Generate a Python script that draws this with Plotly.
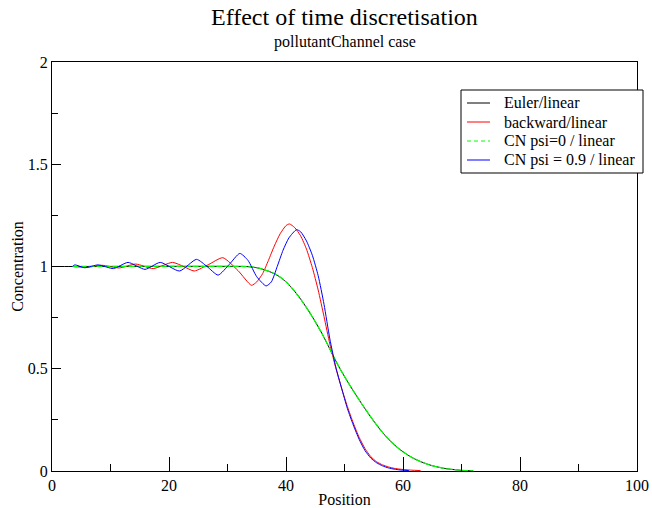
import plotly.graph_objects as go

# ---------------- data ----------------
euler_x = [0, 3.5, 33, 34, 35, 36, 37, 38, 39, 40, 41, 42, 43, 44, 45, 46, 47, 48, 49, 50,
           51, 52, 53, 54, 55, 56, 57, 58, 59, 60, 61, 62, 63, 64, 65, 66, 67, 68, 69, 70, 71, 72]
euler_y = [1.0, 1.0, 1.0, 0.998, 0.994, 0.987, 0.977, 0.965, 0.948, 0.925, 0.895, 0.86, 0.82,
           0.777, 0.73, 0.68, 0.625, 0.567, 0.512, 0.462, 0.415, 0.37, 0.326, 0.284, 0.244,
           0.206, 0.172, 0.142, 0.116, 0.094, 0.075, 0.059, 0.046, 0.035, 0.026, 0.019, 0.013,
           0.009, 0.006, 0.003, 0.002, 0.001]

cn0_x = euler_x[1:]
cn0_y = euler_y[1:]

backward_x = [3.5, 6, 8.5, 11.5, 14.3, 17.3, 20.6, 22.5, 24.3, 26.8, 29.2, 31.8, 34.1, 35, 36,
              37, 38, 39, 40, 40.6, 41.5, 42.5, 43.5, 44.5, 45.5, 46.5, 47.5, 48.5, 49.5, 50.5,
              51.5, 52.5, 53.5, 54.5, 55.5, 56.5, 57.5, 58.5, 59.5, 60.5, 61.5, 63]
backward_y = [1.0, 0.996, 1.006, 0.993, 1.012, 0.99, 1.02, 1.0, 0.978, 1.01, 1.043, 0.98,
              0.908, 0.925, 0.965, 1.03, 1.1, 1.16, 1.2, 1.208, 1.19, 1.15, 1.085, 0.995, 0.885,
              0.755, 0.62, 0.505, 0.405, 0.315, 0.235, 0.165, 0.11, 0.07, 0.045, 0.03, 0.02,
              0.013, 0.009, 0.006, 0.004, 0.002]

cn09_x = [3.5, 3.9, 5.6, 7.9, 10.5, 13, 15.9, 18.5, 21.8, 24.7, 26.5, 28.4, 30.3, 32.1, 33.5,
          35, 36.6, 37.5, 38.5, 39.5, 40.5, 41.8, 42.5, 43.5, 44.5, 45.5, 46.5, 47.5, 48.5,
          49.5, 50.5, 51.5, 52.5, 53.5, 54.5, 55.5, 56.5, 57.5, 58.5, 59.5, 61]
cn09_y = [1.0, 1.008, 0.994, 1.008, 0.99, 1.02, 0.986, 1.02, 0.978, 1.035, 1.0, 0.958, 1.01,
          1.064, 1.03, 0.95, 0.905, 0.925, 1.0, 1.08, 1.14, 1.18, 1.17, 1.125, 1.055, 0.955,
          0.815, 0.645, 0.51, 0.405, 0.305, 0.225, 0.155, 0.1, 0.063, 0.04, 0.025, 0.015,
          0.009, 0.005, 0.002]

series_names = ["Euler/linear", "backward/linear", "CN psi=0 / linear", "CN psi = 0.9 / linear"]
series_colors = ["black", "#ff0000", "#00ff00", "#0000ff"]
series_dashed = [False, False, True, False]

x_ticks = [0, 20, 40, 60, 80, 100]
y_ticks = [0, 0.5, 1, 1.5, 2]

FONT = "Liberation Serif, Times New Roman, serif"

# ---------------- geometry (pixels) ----------------
W, H = 652, 508
L, R, T, B = 52, 15, 62, 37
PW, PH = W - L - R, H - T - B


def px(xp):
    return (xp - L) / PW


def py(yp):
    return (H - B - yp) / PH


fig = go.Figure()
data = [(euler_x, euler_y), (backward_x, backward_y), (cn0_x, cn0_y), (cn09_x, cn09_y)]
for (xs, ys), nm, col, dashed in zip(data, series_names, series_colors, series_dashed):
    fig.add_trace(go.Scatter(x=xs, y=ys, mode="lines", name=nm, showlegend=False,
                             line=dict(color=col, width=1.3 if dashed else 1,
                                       dash="6px,2px" if dashed else "solid",
                                       shape="spline", smoothing=0.6)))

# ---------------- hand-drawn legend box (Grace style) ----------------
shapes = [dict(type="rect", xref="paper", yref="paper",
               x0=px(461), x1=px(643), y0=py(173), y1=py(90),
               line=dict(color="black", width=1), fillcolor="white", layer="above")]
annotations = []
row_y = [103, 122, 141, 160]
for ry, nm, col, dashed in zip(row_y, series_names, series_colors, series_dashed):
    shapes.append(dict(type="line", xref="paper", yref="paper",
                       x0=px(467), x1=px(490), y0=py(ry), y1=py(ry),
                       line=dict(color=col, width=1, dash="4px,3px" if dashed else "solid"),
                       layer="above"))
    annotations.append(dict(text=nm, x=px(502), y=py(ry), xref="paper", yref="paper",
                            showarrow=False, xanchor="left", yanchor="middle",
                            font=dict(family=FONT, size=16)))

annotations += [
    dict(text="Effect of time discretisation", x=0.5, y=py(17), xref="paper", yref="paper",
         showarrow=False, font=dict(family=FONT, size=24), xanchor="center", yanchor="middle"),
    dict(text="pollutantChannel case", x=0.5, y=py(42), xref="paper", yref="paper",
         showarrow=False, font=dict(family=FONT, size=16), xanchor="center", yanchor="middle"),
]

fig.update_layout(
    width=W, height=H,
    margin=dict(l=L, r=R, t=T, b=B, autoexpand=False),
    paper_bgcolor="white", plot_bgcolor="white",
    font=dict(family=FONT, size=16, color="black"),
    showlegend=False,
    shapes=shapes,
    annotations=annotations,
)

fig.update_xaxes(range=[0, 100], tickvals=x_ticks, ticktext=[str(v) for v in x_ticks],
                 ticks="inside", ticklen=14, tickwidth=1, tickcolor="black",
                 minor=dict(dtick=10, ticks="inside", ticklen=7, tickcolor="black", tickwidth=1),
                 showline=True, linecolor="black", linewidth=1, mirror=True,
                 showgrid=False, zeroline=False, automargin=False,
                 title=dict(text="Position", font=dict(family=FONT, size=16), standoff=4),
                 tickfont=dict(family=FONT, size=16))
fig.update_yaxes(range=[0, 2], tickvals=y_ticks, ticktext=["0", "0.5", "1", "1.5", "2"],
                 ticks="inside", ticklen=9, tickwidth=1, tickcolor="black",
                 minor=dict(dtick=0.25, ticks="inside", ticklen=6, tickcolor="black", tickwidth=1),
                 showline=True, linecolor="black", linewidth=1, mirror=True,
                 showgrid=False, zeroline=False, automargin=False,
                 title=dict(text="Concentration", font=dict(family=FONT, size=16), standoff=0),
                 tickfont=dict(family=FONT, size=16))

# remove the browser's default 8px body margin so the figure sits at the page origin
fig.write_html("out.html", config={"displayModeBar": False},
               post_script="document.body.style.margin='0';")
